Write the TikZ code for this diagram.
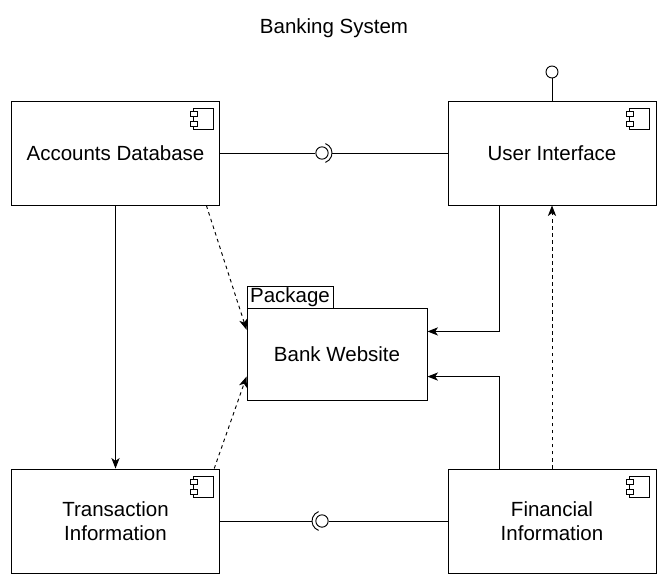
\documentclass[tikz,border=0pt]{standalone}
\usepackage{fontspec}
\setmainfont{Liberation Sans}
\usetikzlibrary{arrows.meta}

\tikzset{
    comp/.style = {draw, line width=0.8pt, minimum width=6.24cm, minimum height=3.12cm, align=center},
    ball/.style = {draw, circle, line width=0.8pt, minimum size=0.37cm, inner sep=0pt},
    link/.style = {line width=0.8pt},
    arr/.style = {line width=0.8pt, -{Stealth[length=9pt, width=7pt, inset=2.5pt]}},
    darr/.style = {arr, dash pattern=on 3pt off 3pt}
}

% component symbol in the top right corner of a box
\newcommand{\compicon}[1]{
    \begin{scope}[shift={(#1.north east)}, line width=0.8pt]
        \draw (-27, 8) rectangle (-7, 29);
        \draw[fill=white] (-30, 11) rectangle (-23, 16);
        \draw[fill=white] (-30, 21) rectangle (-23, 26);
    \end{scope}
}

\begin{document}
\begin{tikzpicture}[x=0.03cm, y=-0.03cm, font=\fontsize{17.5}{20.5}\selectfont]
        \useasboundingbox (0, 0) rectangle (670, 586);

        \node (title) at (334, 28) {Banking System};

        % components
        \node[comp] (accdb) at (115.5, 153) {Accounts Database};
        \node[comp] (ui) at (552, 153) {User Interface};
        \node[comp] (trans) at (115.5, 521) {Transaction\\Information};
        \node[comp] (fin) at (552, 521) {Financial\\Information};
        \compicon{accdb}
        \compicon{ui}
        \compicon{trans}
        \compicon{fin}

        % package
        \node[draw, line width=0.8pt, minimum width=5.4cm, minimum height=2.76cm] (website) at (337, 354) {Bank Website};
        \node[draw, line width=0.8pt, minimum width=2.58cm, minimum height=0.66cm, inner sep=0pt] (pkgtab) at (290, 297) {Package};

        % provided interface on top
        \node[ball, minimum size=0.36cm] (lolli) at (552, 72) {};
        \draw[link] (ui.north) -- (lolli);

        % ball and socket, top
        \node[ball] (ball1) at (322, 153) {};
        \coordinate (sock1) at (332, 153);
        \draw[link] (accdb.east) -- (ball1.west);
        \draw[link] ([shift={(-70:10)}]ball1.center) arc[start angle=-70, end angle=70, radius=10];
        \draw[link] (sock1) -- (ui.west);

        % ball and socket, bottom
        \node[ball] (ball2) at (322, 521) {};
        \coordinate (sock2) at (312, 521);
        \draw[link] (trans.east) -- (sock2);
        \draw[link] ([shift={(110:10)}]ball2.center) arc[start angle=110, end angle=250, radius=10];
        \draw[link] (ball2.east) -- (fin.west);

        % dependencies
        \draw[arr] (accdb.south) -- (trans.north);
        \draw[darr] (accdb.-30.4) -- (website.165.1);
        \draw[darr] (trans.28.6) -- (website.194.3);
        \draw[arr] (ui.-135) |- (website.14.3);
        \draw[arr] (fin.135) |- (website.-14.3);
        \draw[darr] (fin.north) -- (ui.south);
    \end{tikzpicture}
\end{document}
